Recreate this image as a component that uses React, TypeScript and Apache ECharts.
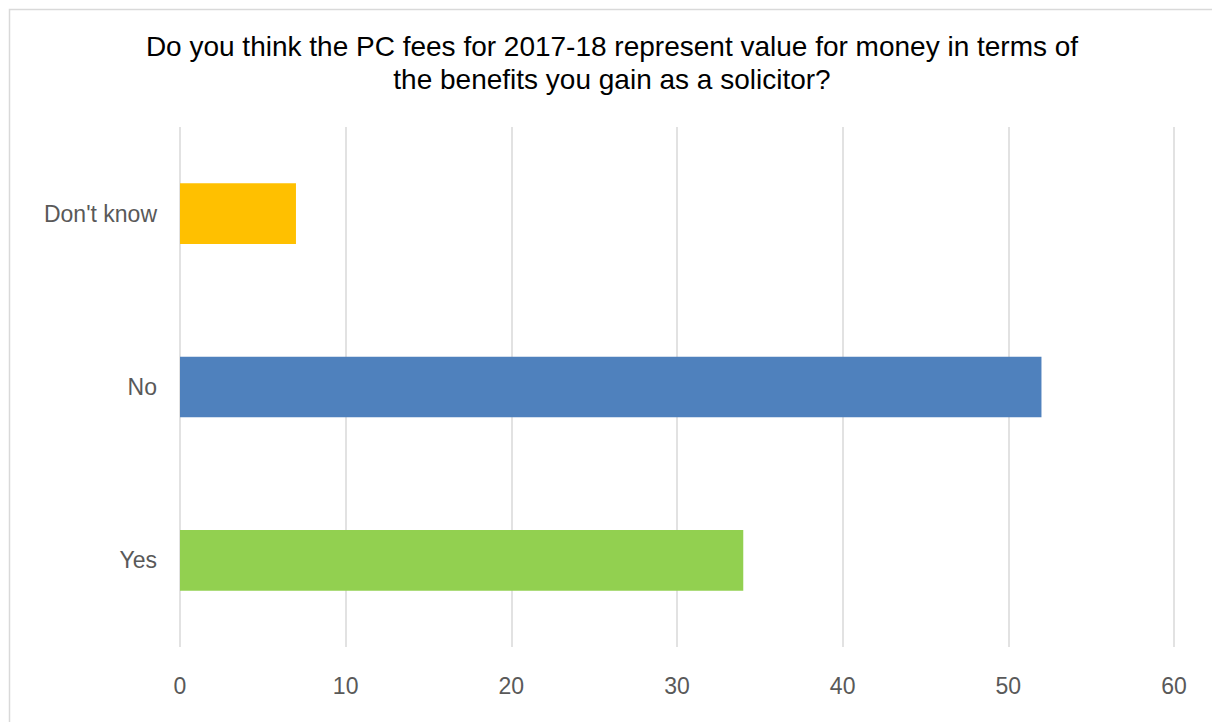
import React, { useEffect, useRef } from "react";
import * as echarts from "echarts";

const categories = ["Yes", "No", "Don't know"];
const values = [34, 52, 7];
const barColors = ["#92D050", "#4F81BD", "#FFC000"];
const xTicks = { min: 0, max: 60, interval: 10 };
const titleText =
  "Do you think the PC fees for 2017-18 represent value for money in terms of\nthe benefits you gain as a solicitor?";

const FONT = "'Liberation Sans', Arial, sans-serif";

export default function App() {
  const ref = useRef<HTMLDivElement>(null);
  useEffect(() => {
    document.body.style.margin = "0";
    const chart = echarts.init(ref.current!, null, { renderer: "svg" });
    chart.setOption({
      animation: false,
      backgroundColor: "#ffffff",
      title: {
        text: titleText,
        left: 607,
        top: 25,
        textAlign: "center",
        textStyle: {
          fontFamily: FONT,
          fontSize: 28,
          fontWeight: "normal",
          color: "#000000",
          lineHeight: 33,
        },
      },
      graphic: [
        {
          type: "rect",
          shape: { x: 9.5, y: 9.5, width: 1230, height: 740 },
          style: { fill: "none", stroke: "#d9d9d9", lineWidth: 1.5 },
          silent: true,
        },
      ],
      grid: { left: 180, right: 38, top: 127, bottom: 75, containLabel: false },
      xAxis: {
        type: "value",
        min: xTicks.min,
        max: xTicks.max,
        interval: xTicks.interval,
        axisLine: { show: false },
        axisTick: { show: false },
        splitLine: { show: true, lineStyle: { color: "#d9d9d9", width: 1.5 } },
        axisLabel: {
          margin: 27,
          fontFamily: FONT,
          fontSize: 23,
          color: "#595959",
        },
      },
      yAxis: {
        type: "category",
        data: categories,
        axisLine: { show: false },
        axisTick: { show: false },
        axisLabel: {
          margin: 23,
          fontFamily: FONT,
          fontSize: 23,
          color: "#595959",
        },
      },
      series: [
        {
          type: "bar",
          barWidth: "35%",
          data: values.map((v, i) => ({ value: v, itemStyle: { color: barColors[i] } })),
        },
      ],
    });
    return () => chart.dispose();
  }, []);
  return <div ref={ref} style={{ width: 1212, height: 722 }} />;
}
